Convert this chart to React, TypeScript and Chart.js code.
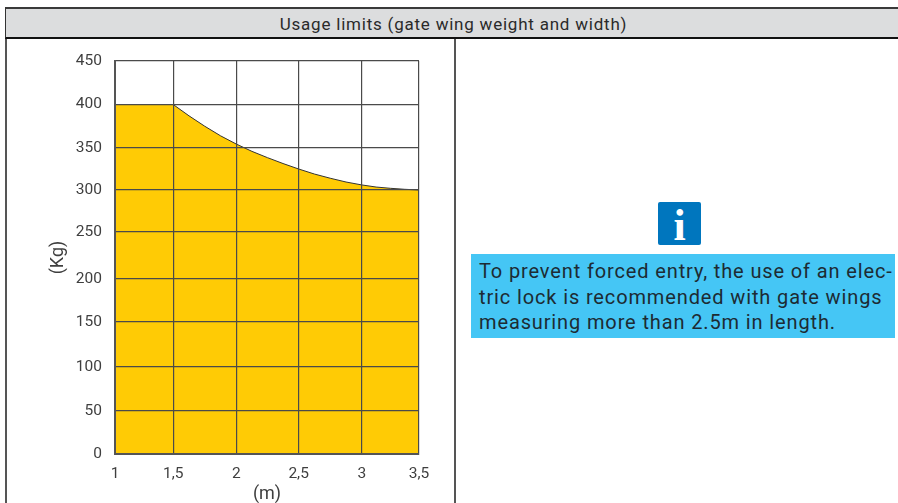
import React, { useEffect, useRef } from "react";
import { Chart, LinearScale, registerables } from "chart.js";

const title = "Usage limits (gate wing weight and width)";
const widths = [1, 1.5, 1.625, 1.75, 1.875, 2, 2.125, 2.25, 2.375, 2.5, 2.625, 2.75, 2.875, 3, 3.125, 3.25, 3.375, 3.5];
const weights = [400, 400, 387, 375, 364, 354.5, 346, 338.5, 331.5, 325, 319, 314, 309.5, 306, 303.5, 302, 300.8, 300];
const xTicks = [1, 1.5, 2, 2.5, 3, 3.5];
const yTicks = [0, 50, 100, 150, 200, 250, 300, 350, 400, 450];
// The printed grid is hand-drawn and slightly uneven: share of the axis length at each tick.
const xTickShares = [0, 0.1914, 0.3993, 0.604, 0.8119, 1];
const yTickShares = [0, 0.1094, 0.2214, 0.3359, 0.4453, 0.5649, 0.6718, 0.7786, 0.8893, 1];
const noteLines = [
  "To prevent forced entry, the use of an elec-",
  "tric lock is recommended with gate wings",
  "measuring more than 2.5m in length.",
];
const xAxisTitle = "(m)";
const yAxisTitle = "(Kg)";

class UnevenScale extends LinearScale {
  static id = "uneven";
  getPixelForValue(value: number) {
    const isX = (this as any).axis === "x";
    const vals = isX ? xTicks : yTicks;
    const shares = isX ? xTickShares : yTickShares;
    let i = 0;
    while (i < vals.length - 2 && value > vals[i + 1]) i++;
    const t = (value - vals[i]) / (vals[i + 1] - vals[i]);
    return (this as any).getPixelForDecimal(shares[i] + t * (shares[i + 1] - shares[i]));
  }
}

Chart.register(...registerables, UnevenScale as any);

const FONT = "Roboto";
const TEXT = "#3f3f3f";
const GRID = "#4a4a4a";

const abs = (l: number, t: number, w: number, h: number): React.CSSProperties => ({
  position: "absolute",
  left: l,
  top: t,
  width: w,
  height: h,
});

export default function App() {
  const ref = useRef<HTMLCanvasElement>(null);
  useEffect(() => {
    const chart = new Chart(ref.current!, {
      type: "line",
      data: {
        datasets: [
          {
            data: widths.map((x, i) => ({ x, y: weights[i] })),
            borderColor: "#333333",
            borderWidth: 1,
            backgroundColor: "#FFCB05",
            fill: "origin",
            pointRadius: 0,
            tension: 0,
          },
        ],
      },
      options: {
        animation: false,
        responsive: false,
        layout: { padding: { top: 61, right: 36, left: 0, bottom: 0 } },
        plugins: { legend: { display: false }, tooltip: { enabled: false } },
        scales: {
          x: {
            type: "uneven",
            min: 1,
            max: 3.5,
            afterFit: (s: any) => {
              s.height = 49;
            },
            grid: { color: GRID, lineWidth: 1.2, drawTicks: false, z: 1 },
            border: { color: "#555555", width: 2, z: 2 },
            ticks: {
              stepSize: 0.5,
              padding: 11,
              maxRotation: 0,
              color: TEXT,
              font: { family: FONT, size: 15.5 },
              callback: (v: any) => String(v).replace(".", ","),
            },
            title: {
              display: true,
              text: xAxisTitle,
              color: TEXT,
              font: { family: FONT, size: 18 },
              padding: { top: 0, bottom: -2 },
            },
          },
          y: {
            type: "uneven",
            min: 0,
            max: 450,
            afterFit: (s: any) => {
              s.width = 115;
            },
            grid: { color: GRID, lineWidth: 1.2, drawTicks: false, z: 1 },
            border: { color: "#555555", width: 2, z: 2 },
            ticks: {
              stepSize: 50,
              padding: 13,
              color: TEXT,
              font: { family: FONT, size: 15.5 },
            },
            title: {
              display: true,
              text: yAxisTitle,
              color: TEXT,
              font: { family: FONT, size: 18 },
              padding: { top: 48, bottom: 0 },
            },
          },
        },
      },
    } as any);
    return () => chart.destroy();
  }, []);

  return (
    <div style={{ ...abs(0, 0, 898, 503), overflow: "hidden", background: "#fff", fontFamily: FONT }}>
      <canvas ref={ref} width={455} height={503} style={{ position: "absolute", left: 0, top: 0, display: "block" }} />
      <div style={{ ...abs(5, 7, 893, 32), boxSizing: "border-box", background: "#DCDDDE", borderTop: "2px solid #3a3a3a", borderBottom: "2px solid #111", borderLeft: "1px solid #333", color: "#2a2a2a", fontSize: 17, fontWeight: 400, letterSpacing: 0.78, lineHeight: "30px", textAlign: "center", paddingLeft: 3, whiteSpace: "nowrap" }}>
        {title}
      </div>
      <div style={{ ...abs(5, 39, 2, 464), background: "#555" }} />
      <div style={{ ...abs(454, 39, 2, 464), background: "#555" }} />
      <div style={{ ...abs(658, 202, 43, 43), background: "#0076BE", borderRadius: 2, color: "#fff", fontFamily: "Liberation Serif", fontWeight: 700, fontSize: 44, lineHeight: "47px", textAlign: "center" }}>
        i
      </div>
      <div style={{ ...abs(471, 254, 424, 84), background: "#45C6F5" }}>
        {noteLines.map((line, i) => (
          <div key={i} style={{ position: "absolute", left: 8, top: 5 + i * 25.5, color: "#1d2b33", fontSize: 20, lineHeight: "25px", letterSpacing: 0.87, whiteSpace: "nowrap" }}>
            {line}
          </div>
        ))}
      </div>
    </div>
  );
}
